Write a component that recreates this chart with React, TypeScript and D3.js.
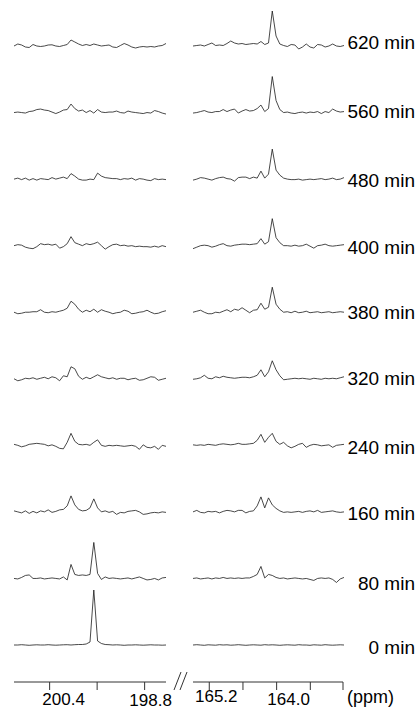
import React from 'react';
import * as d3 from 'd3';

// reaction times, top to bottom
const times = ['620', '560', '480', '400', '380', '320', '240', '160', '80', '0'];

// ppm sampling grids for the two windows of the spectrum
const N = 41;
const leftPpm = d3.range(N).map(i => 201.0 - i * 0.064);
const rightPpm = d3.range(N).map(i => 165.49 - i * 0.06725);

// intensities (arbitrary units), one array per time
const left620 = [0, 2, 1, -1, -1.5, 1.5, 0, -0.5, 0, 1, 1.2, 0, -0.5, 0.5, 1.5, 6, 4, 2, 0.5, 1.5, 0.5, 2, 1, 0, 0.5, 1, -1, -1.5, 0.5, 2.5, 1, -1, -2, -1, -0.5, -1, -0.5, -1, 0, 0.5, 2.5];
const left560 = [0, 0.5, 0, -0.5, 1, 1.5, 3, 3.5, 2.5, 2, 0.5, -1, 0.5, 2.5, 3, 8.5, 4, 1.5, 2.5, 0, 2, -0.5, 3, 0.5, 0, 0.5, 0.5, 1.5, 0, -0.5, 1.5, 0.5, 0, -0.5, -1, 0, -0.5, 2, 1, -0.5, -1.5];
const left480 = [0, 1, -0.5, 1, -1, 0.5, -1, 0.5, 0, -0.5, 1.5, 0, 1, 2, 0.5, 5.5, 3, 0, -1, -1, 0, -0.5, 6, 3, 1.5, 1, 0.5, 0.5, -0.5, 0.5, 0, 1, -1, 0.5, 0, -1, -1.5, 0.5, -0.5, 0, -0.5];
const left400 = [0, 1, 0.5, -1.5, -2.5, -3, -1, 2, 1, 1.5, 0.5, 1.5, -2.5, -1, 2, 9, 3, 1.5, 0, 2, 1, 2, 3.5, 0, -3.5, -1, 1, 1.5, 0, 0.5, -0.5, 0, -1, -0.5, -1, -1, -1.5, -0.5, -1.5, 0, -1];
const left380 = [0, -1.5, -1, 0, 0, 0.5, 0.5, 2.5, 0, -0.5, 0.5, 0, 1, 2, 4, 11, 8, 3, 0, 2, 0.5, 3, 0, 2.5, 1, 0, -1.5, -0.5, 0, 2, 1, -1.5, -1, 0, 0.5, 2, 0, -1.5, -1, 0.5, 1.5];
const left320 = [0, -2, -1, 0.5, 0, 1, -0.5, 0.5, 1.5, 0, 2, 1, -2, 3, 2, 12, 10, 2.5, -0.5, 1.5, 0, 2, 4, 2, 1, 0, 1, -0.5, 0.5, 0.5, -1, 0, 0.5, -1.5, -1, 0.5, 2, 1.5, -1.5, -0.5, 0.5];
const left240 = [1, 0, -1.5, -0.5, 1, 1.5, 2, 1.5, 1, -0.5, 0.5, -1, -3, -3.5, 3, 12, 4, 1, 0.5, 1, 0, 3, 5.5, 0, -1, 0, -0.5, 0, -0.5, -1, -0.5, 0, -1, -4, 0.5, -2, -2.5, -1, -4, 0, -1];
const left160 = [1, 0, -1, 1, -1.5, 0.5, -1, 1, 0, 2, -0.5, 0.5, 2, 2.5, 6, 16, 7, 2.5, 1, 1.5, 4, 13, 4, 0, 1, -0.5, 0.5, -2.5, -0.5, -1, 0.5, 1, 1.5, 0, -2.5, -2, -1, -0.5, -1, 0, -0.5];
const left80 = [0, -0.5, 1, 3, 3.5, 0, 0, 0.5, -0.5, 0, 0.5, 0, -0.5, 1.5, -1.5, 14, 4, 3, 3.5, 3, 4, 36, 5, -1, 1.5, 0, 0.5, 0, -0.5, 0, 0.5, -0.5, 0.5, 1.5, 0, -1.5, -1, 0, -1.5, 0.5, 1];
const left0 = [0, 0, 0.3, 0, -0.3, 0, 0.2, 0, 0, 0.3, 0, -0.2, 0, 0.2, 0.3, 0, 0.3, 0.5, 0.5, 1, 3, 55, 4, 1.5, 0.5, 0.3, 0, 0.2, 0, -0.3, 0, 0, 0.2, 0, -0.2, 0, 0.2, 0, 0, -0.2, 0];

const right620 = [0, 0.5, 1, 0, 1.5, 3, 0.5, 1, 0.5, 2.5, 5, 3, 2, 2.5, 1.5, 2, 2.5, 2, 4.5, 1.5, 3, 35, 10, 2, 0.5, -0.5, 1.5, 1, -3, -1, 2, -1, -2, 1.5, 1, -1, 0, 2, 0, -0.5, 0.5];
const right560 = [-0.5, 0, 1, 2, 0.5, 0, 1, 1, 3, 1, 2.5, 3.5, -0.5, 1.5, 3, 1.5, 2, 4, 7.5, 1, 4, 36, 12, 3, 0, 0.5, -0.5, -1, 0, 0.5, -0.5, 0.5, 0, 1, -1, 1, 0, 3.5, 1.5, 0.5, 1];
const right480 = [-1, 0, 1.5, 1, 0, -1, 0.5, 1.5, 2, 0.5, 0, -2, 1.5, 2, 2, 0.5, 2, 1, 8, 1, 5, 30, 9, 4, 1, 0, -0.5, -0.5, 0, -1, -0.5, 0, -0.5, 0, 0.5, -0.5, 0, 1, -0.5, 0, 1.5];
const right400 = [-3, -1.5, 0, 0.5, 0, -1.5, -0.5, 1, 2, 0, -0.5, 0.5, 1, 1.5, 1.5, 1, 1.5, 2, 7, 1.5, 4, 27, 8, 3, 0, 0, -0.5, 0.5, -0.5, 0, 1.5, -0.5, -2.5, 0, 0.5, 1.5, 0, -0.5, 0, 0.5, 1];
const right380 = [0, 1, 2, 0, -1.5, -1.5, 0, -0.5, 1, 2.5, 0.5, 3, 2, 4.5, 2, -0.5, 2, 2.5, 9, 3, 5, 25, 8, 3, 0, 0.5, -0.5, 1, -0.5, 0, 1, -0.5, 0, 0.5, -0.5, 0, 0.5, -0.5, 0, 0.5, 0];
const right320 = [-0.5, 0, 1, 3.5, 0.5, 0, 2, 1, 2.5, 1.5, 1, 0.5, 1, 1.5, 1.5, 1, 2, 3.5, 9, 2, 7, 18, 9, 3, -1, -0.5, 0, 0.5, 0, 0.5, 0, -0.5, 0.5, 0, -0.5, 0.5, 0, 0.5, 0, 1, 2];
const right240 = [0.5, 0, 0.5, 0, 1, 0.5, 0, 1, 1.5, 1, 0.5, 1, 2, 1, 1, 1.5, 2, 5, 11, 3, 8, 12, 4, 1, 3, -0.5, -2.5, -1, 1, 2, -2, 0, 1, 0.5, -0.5, 0, 0.5, -2, 0, 0.5, 1];
const right160 = [0, 1.5, -0.5, -1, 0.5, 0, 0.5, -1, 0.5, 1.5, 1, 0, 1.5, 1.5, -1, 0.5, 1, 6, 15, 4, 14, 7, 3.5, 1, -0.5, 0, -0.5, 0, 0.5, -0.5, 0.5, 1, 0, 1.5, -0.5, 0, 0.5, 1, 0, -0.5, 0];
const right80 = [0, 0.5, -0.5, 0, 0.5, -0.5, 0.5, 0, 1, 0, 0.5, 0, 0.5, 0, 0.5, 0.5, 2, 4, 12, 0.5, 4, 3, 1, 0, 0.5, -0.5, 0, 0.5, 0, -0.5, 0, -1, -2, 0, 0.5, 0, 0.5, -1, -4, -0.5, 1];
const right0 = [0, 0.3, 0, -0.3, 0.2, 0, -0.2, 0.3, 0, 0.2, -0.2, 0, 0.3, 0, -0.3, 0, 0.2, 0, -0.2, 0.3, 0, 0.2, 0, -0.3, 0, 0.2, 0, -0.2, 0.3, 0, 0, -0.3, 0.2, 0, -0.2, 0.3, 0, -0.2, 0, 0.2, 0];

const leftSeries = [left620, left560, left480, left400, left380, left320, left240, left160, left80, left0];
const rightSeries = [right620, right560, right480, right400, right380, right320, right240, right160, right80, right0];

// axis ticks (ppm) and labels
const leftTicks = [200.4, 199.6, 198.8];
const rightTicks = [165.2, 164.6, 164.0, 163.4, 162.8];
const leftLabels = [200.4, 198.8];
const rightLabels = [165.2, 164.0];

// small hand placement of the labels, as in the original figure
const leftLabelNudge = [[14, 705], [6, 706]];
const rightLabelNudge = [[7, 702], [12, 705]];
const timeLabelNudge = [-4, -1, 1, 2, 0, 0, 2, 2, 5, 2];

const W = 419;
const H = 710;
const axisY = 682;
const font = '"Liberation Sans", Arial, Helvetica, sans-serif';
const ink = '#1a1a1a';

export default function App() {
  const xLeft = d3.scaleLinear().domain([201.0, 198.44]).range([14, 166]);
  const xRight = d3.scaleLinear().domain([165.49, 162.8]).range([193, 344]);
  const yRow = d3.scalePoint<string>().domain(times).range([46, 645]);
  const yInt = d3.scaleLinear().domain([0, 55]).range([0, -55]);

  const makeLine = (x: d3.ScaleLinear<number, number>, ppm: number[], base: number) =>
    d3.line<number>()
      .x((_, i) => x(ppm[i]))
      .y(d => base + yInt(d));

  return (
    <svg width={W} height={H} style={{ position: 'absolute', left: 0, top: 0, background: '#fff' }}
      fontFamily={font}>
      {times.map((t, k) => {
        const base = yRow(t) as number;
        return (
          <g key={t}>
            <path d={makeLine(xLeft, leftPpm, base)(leftSeries[k]) || ''} fill="none" stroke={ink} strokeWidth={0.8} strokeLinejoin="round" />
            <path d={makeLine(xRight, rightPpm, base)(rightSeries[k]) || ''} fill="none" stroke={ink} strokeWidth={0.8} strokeLinejoin="round" />
            <text x={415} y={base + timeLabelNudge[k]} textAnchor="end" dominantBaseline="central" fontSize={19} fill="#000">
              {t} min
            </text>
          </g>
        );
      })}

      {/* axes */}
      <line x1={xLeft.range()[0]} x2={xLeft.range()[1]} y1={axisY} y2={axisY} stroke="#333" strokeWidth={1} />
      <line x1={xRight.range()[0]} x2={343} y1={axisY} y2={axisY} stroke="#333" strokeWidth={1} />
      {leftTicks.map(t => (
        <line key={'lt' + t} x1={xLeft(t)} x2={xLeft(t)} y1={axisY} y2={axisY + 8} stroke="#333" strokeWidth={1} />
      ))}
      {rightTicks.map(t => (
        <line key={'rt' + t} x1={Math.min(xRight(t), 343)} x2={Math.min(xRight(t), 343)} y1={axisY} y2={axisY + 8} stroke="#333" strokeWidth={1} />
      ))}
      {leftLabels.map((t, i) => (
        <text key={'ll' + t} x={xLeft(t) + leftLabelNudge[i][0]} y={leftLabelNudge[i][1]} textAnchor="middle" fontSize={17} fill="#000">
          {t.toFixed(1)}
        </text>
      ))}
      {rightLabels.map((t, i) => (
        <text key={'rl' + t} x={xRight(t) + rightLabelNudge[i][0]} y={rightLabelNudge[i][1]} textAnchor="middle" fontSize={17} fill="#000">
          {t.toFixed(1)}
        </text>
      ))}
      <text x={347} y={703} fontSize={18} fill="#000">(ppm)</text>

      {/* axis break */}
      <line x1={174} y1={690} x2={181} y2={672} stroke="#333" strokeWidth={1} />
      <line x1={180} y1={690} x2={187} y2={672} stroke="#333" strokeWidth={1} />
    </svg>
  );
}
